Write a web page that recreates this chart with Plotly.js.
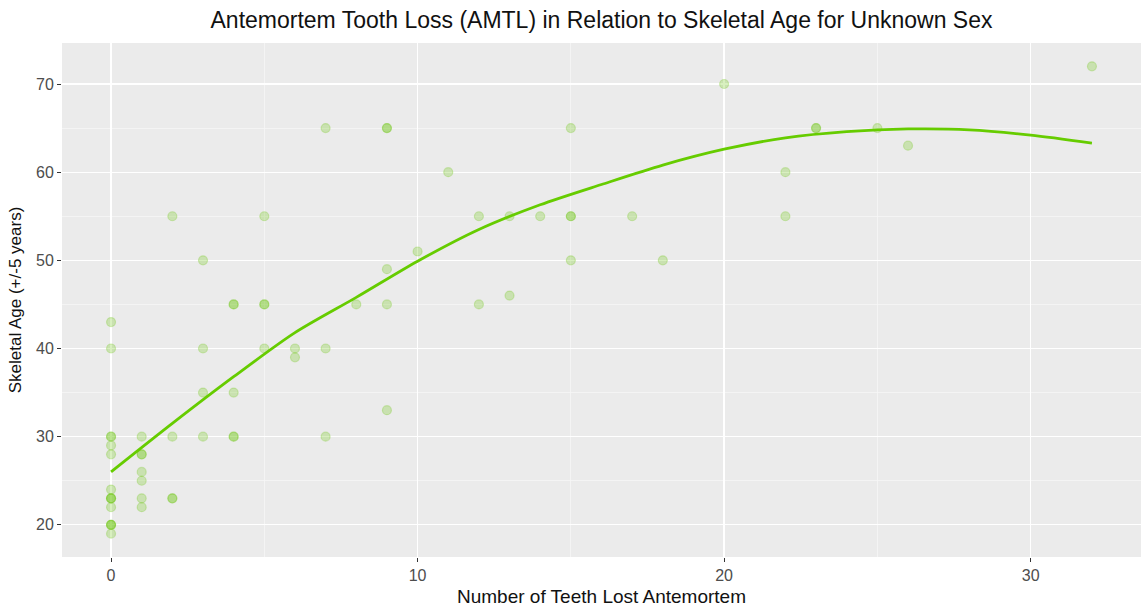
<!DOCTYPE html>
<html>
<head>
<meta charset="utf-8">
<script src="https://cdn.plot.ly/plotly-3.0.1.min.js"></script>
<style>html,body{margin:0;padding:0;background:#fff;}#chart{width:1143px;height:616px;}</style>
</head>
<body>
<div id="chart"></div>
<script>
// Observed points: teeth lost antemortem vs skeletal age
const teethLost = [
  0,0,0,0,0,0,0,0,0,0,0,0,0,0,0,
  1,1,1,1,1,1,1,
  2,2,2,2,
  3,3,3,3,
  4,4,4,4,4,
  5,5,5,5,
  6,6,
  7,7,7,
  8,
  9,9,9,9,9,
  10,
  11,
  12,12,
  13,13,
  14,
  15,15,15,15,
  17,
  18,
  20,
  22,22,
  23,23,
  25,
  26,
  32
];
const skeletalAge = [
  43,40,30,30,29,28,24,23,23,23,22,20,20,20,19,
  30,28,28,26,25,23,22,
  55,30,23,23,
  50,40,35,30,
  45,45,35,30,30,
  55,45,45,40,
  40,39,
  65,40,30,
  45,
  65,65,49,45,33,
  51,
  60,
  55,45,
  55,46,
  55,
  65,55,55,50,
  55,
  50,
  70,
  60,55,
  65,65,
  65,
  63,
  72
];
// Smoothed trend
const smoothX = [0,2,4,6,8,10,12,14,16,18,20,22,24,26,28,30,32];
const smoothY = [26,31.5,36.8,41.8,45.8,49.9,53.5,56.3,58.6,60.8,62.6,63.9,64.6,64.9,64.8,64.2,63.3];

const titleText = 'Antemortem Tooth Loss (AMTL) in Relation to Skeletal Age for Unknown Sex';
const xTitle = 'Number of Teeth Lost Antemortem';
const yTitle = 'Skeletal Age (+/-5 years)';
const xTicks = [0,10,20,30];
const yTicks = [20,30,40,50,60,70];

const narrow = '"Liberation Sans Narrow", "Arial Narrow", "Liberation Sans", Arial, sans-serif';
const sans = '"Liberation Sans", Arial, sans-serif';

const traces = [
  {
    type: 'scatter', mode: 'markers',
    x: teethLost, y: skeletalAge,
    marker: {size: 9, color: 'rgba(110,200,20,0.27)', line: {color: 'rgba(110,200,20,0.27)', width: 1.2}},
    hoverinfo: 'x+y', showlegend: false
  },
  {
    type: 'scatter', mode: 'lines',
    x: smoothX, y: smoothY,
    line: {color: '#66CC00', width: 2.8, shape: 'spline', smoothing: 0.8},
    hoverinfo: 'skip', showlegend: false
  }
];

const layout = {
  width: 1143, height: 616,
  margin: {l: 62, r: 2, t: 43, b: 59},
  paper_bgcolor: '#ffffff',
  plot_bgcolor: '#EBEBEB',
  title: {text: titleText, xref: 'paper', x: 0.5, xanchor: 'center', y: 0.968, yanchor: 'middle',
          font: {family: narrow, size: 23, color: '#111'}},
  xaxis: {
    range: [-1.6, 33.6], tickvals: xTicks, ticktext: xTicks.map(String),
    showgrid: true, gridcolor: '#ffffff', gridwidth: 1.3,
    minor: {dtick: 5, tick0: 0, showgrid: true, gridcolor: '#F6F6F6', gridwidth: 0.8},
    zeroline: false, showline: false,
    ticks: 'outside', ticklen: 4, tickcolor: '#333', tickwidth: 1,
    tickfont: {family: narrow, size: 16, color: '#4D4D4D'},
    title: {text: xTitle, font: {family: narrow, size: 19, color: '#111'}, standoff: 6}
  },
  yaxis: {
    range: [16.35, 74.65], tickvals: yTicks, ticktext: yTicks.map(String),
    showgrid: true, gridcolor: '#ffffff', gridwidth: 1.3,
    minor: {dtick: 5, tick0: 0, showgrid: true, gridcolor: '#F6F6F6', gridwidth: 0.8},
    zeroline: false, showline: false,
    ticks: 'outside', ticklen: 4, tickcolor: '#333', tickwidth: 1,
    tickfont: {family: narrow, size: 16, color: '#4D4D4D'},
    title: {text: yTitle, font: {family: sans, size: 17, color: '#111'}, standoff: 10}
  }
};

Plotly.newPlot('chart', traces, layout, {displayModeBar: false, staticPlot: true});
</script>
</body>
</html>
